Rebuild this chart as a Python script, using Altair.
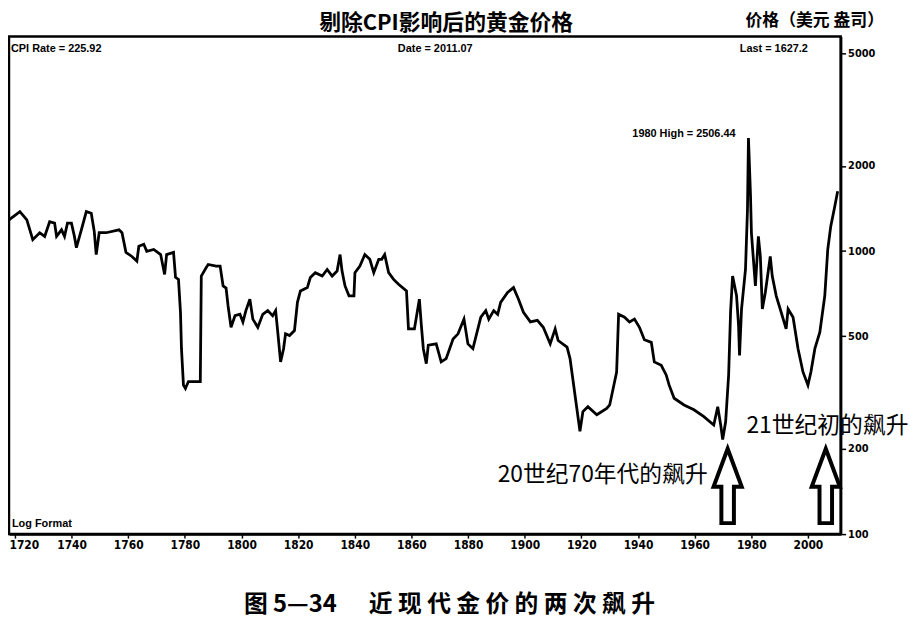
import altair as alt
import pandas as pd

# ---- data (CPI-adjusted gold price, log scale) ----
years = [
    1717.9, 1721.75, 1724.2, 1726.3, 1728.75, 1730.5, 1732.25, 1734.0, 1734.7, 1736.45,
    1737.5, 1738.55, 1739.95, 1741.0, 1741.7, 1743.45, 1745.2, 1746.95, 1748.0, 1748.7,
    1749.75, 1752.2, 1756.75, 1757.8, 1759.2, 1761.3, 1763.05, 1763.75, 1765.5, 1766.55,
    1769.0, 1771.45, 1772.85, 1773.55, 1776.0, 1776.7, 1777.75, 1778.45, 1778.8, 1779.5,
    1780.2, 1781.25, 1785.45, 1785.8, 1787.55, 1788.25, 1791.05, 1792.45, 1793.5, 1794.55,
    1795.25, 1796.3, 1797.7, 1799.45, 1800.5, 1801.55, 1802.95, 1804.0, 1805.75, 1807.5,
    1809.25, 1811.0, 1812.05, 1812.75, 1813.8, 1814.85, 1815.55, 1816.95, 1818.7, 1819.75,
    1820.8, 1823.25, 1824.3, 1826.05, 1828.5, 1830.25, 1832.0, 1833.75, 1834.8, 1835.5,
    1836.55, 1837.95, 1839.7, 1840.05, 1841.8, 1843.55, 1845.3, 1846.7, 1848.45, 1849.5,
    1850.55, 1851.95, 1853.7, 1855.45, 1858.25, 1858.95, 1861.05, 1862.8, 1863.5, 1864.2,
    1865.25, 1865.95, 1868.75, 1870.5, 1872.25, 1874.7, 1876.45, 1878.55, 1879.95, 1881.7,
    1884.5, 1886.25, 1887.3, 1889.05, 1890.45, 1891.5, 1893.95, 1896.05, 1897.8, 1899.55,
    1902.0, 1904.45, 1906.55, 1909.0, 1910.75, 1911.8, 1914.95, 1916.0, 1917.75, 1919.5,
    1920.55, 1922.3, 1925.45, 1928.95, 1930.0, 1932.45, 1933.15, 1935.25, 1937.0, 1938.75,
    1940.5, 1942.25, 1944.7, 1945.75, 1948.2, 1949.95, 1951.0, 1952.75, 1956.25, 1959.75,
    1963.25, 1966.75, 1968.15, 1969.2, 1969.9, 1970.95, 1972.0, 1972.7, 1973.4, 1974.8,
    1975.5, 1975.85, 1976.55, 1977.95, 1978.65, 1979.0, 1979.7, 1980.05, 1981.45, 1982.5,
    1983.2, 1983.9, 1984.95, 1986.7, 1987.4, 1988.8, 1990.55, 1992.3, 1993.0, 1994.75,
    1996.5, 1998.25, 2000.0, 2001.05, 2002.45, 2004.2, 2005.95, 2007.0, 2008.05, 2009.45,
    2010.5,
]
prices = [
    1289, 1379, 1289, 1097, 1161, 1127, 1270, 1255, 1127, 1189,
    1127, 1255, 1255, 1127, 1028, 1189, 1379, 1361, 1174, 972,
    1161, 1161, 1189, 1161, 990, 957, 922, 1040, 1057, 998,
    1013, 972, 827, 972, 990, 808, 794, 609, 452, 336,
    327, 346, 346, 816, 875, 897, 885, 885, 753, 740,
    641, 538, 591, 598, 562, 616, 676, 575, 538, 598,
    616, 591, 616, 524, 406, 452, 510, 503, 524, 659,
    723, 743, 806, 839, 816, 861, 816, 850, 972, 850,
    753, 695, 695, 839, 885, 972, 935, 839, 935, 935,
    972, 839, 794, 763, 723, 531, 531, 676, 546, 452,
    400, 465, 470, 406, 417, 489, 510, 575, 470, 452,
    584, 616, 575, 616, 598, 659, 714, 743, 676, 608,
    562, 569, 538, 470, 531, 483, 458, 417, 310, 231,
    271, 282, 264, 278, 286, 374, 598, 584, 562, 575,
    538, 486, 476, 406, 395, 365, 336, 302, 286, 275,
    260, 243, 282, 243, 216, 250, 365, 616, 816, 695,
    546, 428, 624, 861, 1398, 2506.44, 1599, 1158, 753, 1127,
    957, 624, 714, 957, 816, 695, 608, 531, 624, 584,
    452, 374, 336, 374, 452, 517, 695, 1013, 1222, 1435,
    1627.2,
]

x_tick_values = list(range(1720, 2011, 10))
y_tick_values = [100, 200, 500, 1000, 2000, 5000]

arrow_years = [1971.65, 2006.3]
arrow_prices = [148, 148]

title_text = "剔除CPI影响后的黄金价格"
unit_text = "价格（美元 盎司）"
info_texts = ["CPI Rate = 225.92", "Date = 2011.07", "Last = 1627.2",
              "1980 High = 2506.44", "Log Format"]
note_texts = ["20世纪70年代的飙升", "21世纪初的飙升"]
caption_texts = ["图 5—34", "近 现 代 金 价 的 两 次 飙 升"]

W, H = 839, 502
CJK = "Noto Sans CJK SC"
SMALL = "Liberation Sans, Arial, sans-serif"
NARROW = "Liberation Sans Narrow, DejaVu Sans Condensed, Arial Narrow, sans-serif"

df = pd.DataFrame({"year": years, "price": prices})
arrows = pd.DataFrame({"year": arrow_years, "price": arrow_prices})
one = pd.DataFrame({"a": [0]})

xs = alt.Scale(domain=[1717.9, 2011.55], nice=False, zero=False)
ys = alt.Scale(type="log", domain=[100, 5730], nice=False)

line = alt.Chart(df).mark_line(color="black", strokeWidth=2.8).encode(
    x=alt.X("year:Q", scale=xs, title=None,
            axis=alt.Axis(values=x_tick_values,
                          labelExpr="datum.value % 20 == 0 ? format(datum.value, 'd') : ''",
                          labelFont=NARROW, labelFontWeight="bold", labelFontSize=12,
                          labelColor="black", tickSize=4, tickWidth=1.5, tickColor="black",
                          domainColor="black", domainWidth=2.5, labelPadding=2,
                          labelOverlap=False, labelFlush=8, labelFlushOffset=6,
                          grid=False)),
    y=alt.Y("price:Q", scale=ys, title=None,
            axis=alt.Axis(orient="right", values=y_tick_values, format="d",
                          labelFont=NARROW, labelFontWeight="bold", labelFontSize=11,
                          labelColor="black", tickSize=5, tickWidth=1.5, tickColor="black",
                          domainColor="black", domainWidth=2.5, labelPadding=2,
                          labelOverlap=False, labelFlush=False, grid=False)),
)

arrow_path = "M0,-0.95 L0.36,0.02 L0.16,0.02 L0.16,0.95 L-0.16,0.95 L-0.16,0.02 L-0.36,0.02 Z"
arrow_layer = alt.Chart(arrows).mark_point(
    shape=arrow_path, size=6241, filled=True, fill="white", stroke="black",
    strokeWidth=4, opacity=1, fillOpacity=1, strokeJoin="miter"
).encode(x=alt.X("year:Q", scale=xs), y=alt.Y("price:Q", scale=ys))


def label(txt, x, y, size, weight="normal", align="left", font=CJK):
    return alt.Chart(one).mark_text(
        align=align, baseline="middle", fontSize=size, fontWeight=weight,
        font=font, color="black"
    ).encode(x=alt.value(x), y=alt.value(y), text=alt.value(txt))


texts = [
    label(title_text, 441, -14, 22, "bold", "center"),
    label(unit_text, 743, -16, 17, "bold"),
    label(info_texts[0], 2, 12.5, 11, "bold", "left", SMALL),
    label(info_texts[1], 430, 12.5, 11, "bold", "center", SMALL),
    label(info_texts[2], 806, 12.5, 11, "bold", "right", SMALL),
    label(info_texts[3], 733, 98.5, 11, "bold", "right", SMALL),
    label(info_texts[4], 3, 492, 11, "bold", "left", SMALL),
    label(note_texts[0], 493, 442, 23),
    label(note_texts[1], 744, 393, 23),
    label(caption_texts[0], 237, 574, 24, "bold"),
    label(caption_texts[1], 363, 574, 24, "bold"),
]

chart = alt.layer(line, arrow_layer, *texts).properties(
    width=W, height=H,
    padding={"left": 1, "top": 26, "right": 74, "bottom": 96},
    autosize=alt.AutoSizeParams(type="none"),
    background="white",
).configure_view(stroke="black", strokeWidth=2.5)

chart.save("out.html", embed_options={"renderer": "svg", "actions": False})
